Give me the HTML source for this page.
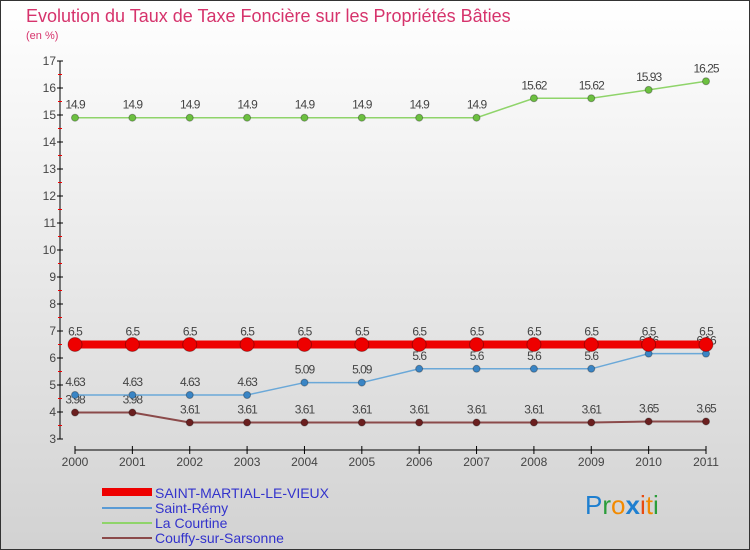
<!DOCTYPE html>
<html><head><meta charset="utf-8"><style>
body{margin:0;width:750px;height:550px;overflow:hidden;font-family:"Liberation Sans",sans-serif}
#c{position:absolute;left:0;top:0;width:748px;height:548px;border:1px solid #333;background:linear-gradient(#fff,#d2d2d2)}
</style></head><body>
<div id="c">
<svg id="s" width="750" height="550" style="position:absolute;left:-1px;top:-1px" font-family="Liberation Sans, sans-serif">
<text x="26" y="22" font-size="18" fill="#d6336c">Evolution du Taux de Taxe Foncière sur les Propriétés Bâties</text>
<text x="26" y="39" font-size="11" fill="#d6336c">(en %)</text>
<g id="axes"></g><g id="series"></g>
<g>
<rect x="102" y="488" width="50" height="8" fill="#e00"/>
<text x="155" y="498" font-size="14" fill="#33c">SAINT-MARTIAL-LE-VIEUX</text>
<rect x="102" y="507" width="50" height="2" fill="#5a9bd5"/>
<text x="155" y="513" font-size="14" fill="#33c">Saint-Rémy</text>
<rect x="102" y="522" width="50" height="2" fill="#8fd46a"/>
<text x="155" y="528" font-size="14" fill="#33c">La Courtine</text>
<rect x="102" y="537" width="50" height="2" fill="#8b4a4a"/>
<text x="155" y="543" font-size="14" fill="#33c">Couffy-sur-Sarsonne</text>
</g>
<g font-size="26">
<text x="585" y="514"><tspan fill="#1e7fd0">P</tspan><tspan fill="#2a9d3a">r</tspan><tspan fill="#f28a00">o</tspan><tspan fill="#1e7fd0" font-weight="bold">x</tspan><tspan fill="#e84a10">i</tspan><tspan fill="#f28a00">t</tspan><tspan fill="#2a9d3a">i</tspan></text>
</g>
</svg></div>
<script>
const years=[2000,2001,2002,2003,2004,2005,2006,2007,2008,2009,2010,2011];
const stMartial=[6.5,6.5,6.5,6.5,6.5,6.5,6.5,6.5,6.5,6.5,6.5,6.5];
const stRemy=[4.63,4.63,4.63,4.63,5.09,5.09,5.6,5.6,5.6,5.6,6.16,6.16];
const courtine=[14.9,14.9,14.9,14.9,14.9,14.9,14.9,14.9,15.62,15.62,15.93,16.25];
const couffy=[3.98,3.98,3.61,3.61,3.61,3.61,3.61,3.61,3.61,3.61,3.65,3.65];
const yTicks=[3,4,5,6,7,8,9,10,11,12,13,14,15,16,17];
const NS="http://www.w3.org/2000/svg";
const X=i=>75+i*(706-75)/11;
const Y=v=>439-(v-3)*27;
function mk(p,t,a){const e=document.createElementNS(NS,t);for(const k in a)e.setAttribute(k,a[k]);p.appendChild(e);return e;}
const ax=document.getElementById('axes'),se=document.getElementById('series');
let l=mk(ax,'line',{x1:60,y1:Y(17),x2:60,y2:Y(3),stroke:'#000'});

yTicks.forEach(v=>{
 mk(ax,'line',{x1:57,y1:Y(v),x2:63,y2:Y(v),stroke:'#000'});
 if(v<17)mk(ax,'line',{x1:58,y1:Y(v+0.5),x2:62,y2:Y(v+0.5),stroke:'#e00'});
 const t=mk(ax,'text',{x:56,y:Y(v)+4,'font-size':12,fill:'#444','text-anchor':'end'});
 t.textContent=v;
 
});
l=mk(ax,'line',{x1:X(0),y1:450,x2:X(11),y2:450,stroke:'#000'});

years.forEach((y,i)=>{
 mk(ax,'line',{x1:X(i),y1:446,x2:X(i),y2:454,stroke:'#000'});
 const t=mk(ax,'text',{x:X(i),y:466,'font-size':12,fill:'#444','text-anchor':'middle'});
 t.textContent=y;
 
});
function series(data,name,col,dot,w,r){
 const g=mk(se,'g',{});
 
 mk(g,'polyline',{points:data.map((v,i)=>X(i)+','+Y(v)).join(' '),fill:'none',stroke:col,'stroke-width':w});
 data.forEach((v,i)=>{
  const c=mk(g,'circle',{cx:X(i),cy:Y(v),r:r,fill:dot,stroke:'rgba(0,0,0,0.3)'});
  
  const t=mk(g,'text',{x:X(i),y:Y(v)-9,'font-size':12,fill:'#444','text-anchor':'middle','letter-spacing':'-1'});
  t.textContent=String(v);
  
 });
}
series(courtine,'la-courtine','#8fd46a','#6cc040',1.5,3.5);
series(couffy,'couffy','#8b4a4a','#6b1f1f',2,3.5);
series(stRemy,'saint-remy','#6aa8d8','#3a85c5',1.5,3.5);
series(stMartial,'saint-martial','#e00','#e00',8,7);
</script>
</body></html>
